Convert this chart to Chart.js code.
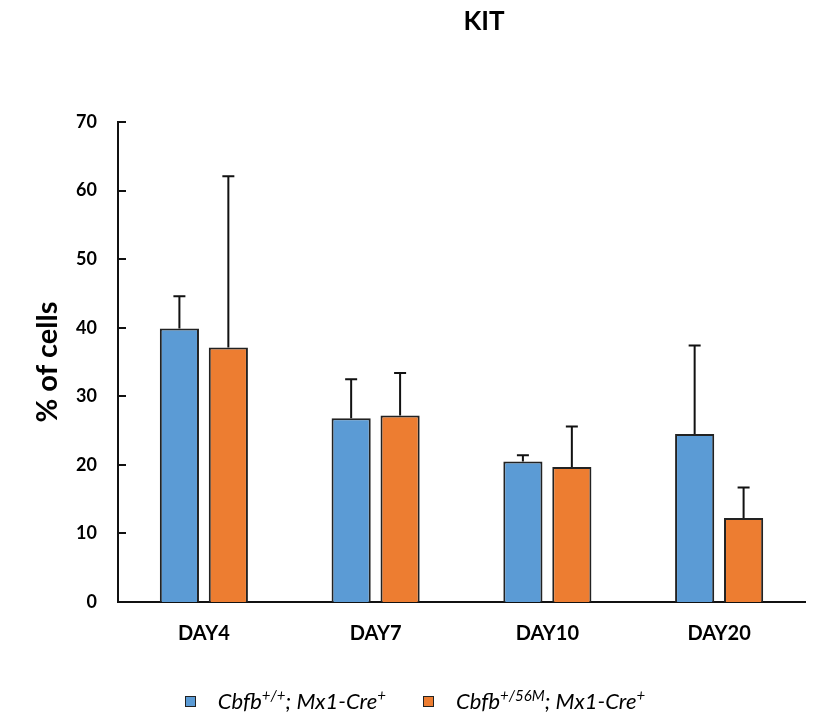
<!DOCTYPE html>
<html>
<head>
<meta charset="utf-8">
<script src="https://cdn.jsdelivr.net/npm/chart.js@4"></script>
<style>
  body { margin: 0; background: #fff; }
  #wrap { position: relative; width: 816px; height: 721px; }
  #title { position: absolute; top: 4px; left: 384px; width: 200px; text-align: center;
           font: bold 26px Lato, sans-serif; color: #000; }
  #legend { position: absolute; top: 687px; left: 7px; width: 816px; text-align: center;
            font: italic 22px Lato, sans-serif; color: #000; white-space: nowrap; }
  #legend span.box { display: inline-block; width: 9px; height: 9px; border: 1.5px solid #222;
            margin-right: 22px; vertical-align: 2px; }
  #legend span.item { margin: 0 16px; }
  #legend sup { font-size: 15px; vertical-align: 8px; line-height: 0; }
</style>
</head>
<body>
<div id="wrap">
  <canvas id="myChart" width="816" height="721"></canvas>
  <div id="title">KIT</div>
  <div id="legend">
    <span class="item"><span class="box" style="background:#5B9BD5"></span>Cbfb<sup>+/+</sup>; Mx1-Cre<sup>+</sup></span>
    <span class="item"><span class="box" style="background:#ED7D31"></span>Cbfb<sup>+/56M</sup>; Mx1-Cre<sup>+</sup></span>
  </div>
</div>
<script>
// Data
const days = ['DAY4', 'DAY7', 'DAY10', 'DAY20'];
const wtMean = [39.9, 26.8, 20.5, 24.5];
const wtErr = [4.7, 5.7, 0.9, 12.9];
const mutMean = [37.1, 27.2, 19.7, 12.25];
const mutErr = [25.0, 6.2, 5.9, 4.45];
const yTicks = [0, 10, 20, 30, 40, 50, 60, 70];

const errors = [wtErr, mutErr];

// Draw upper error bars from the dataset values
const errorBars = {
    id: 'errorBars',
    afterDatasetsDraw(chart) {
        const ctx = chart.ctx;
        const y = chart.scales.y;
        ctx.save();
        ctx.strokeStyle = '#111';
        ctx.lineWidth = 2;
        chart.data.datasets.forEach(function(ds, i) {
            const meta = chart.getDatasetMeta(i);
            meta.data.forEach(function(bar, j) {
                const top = y.getPixelForValue(ds.data[j] + errors[i][j]);
                const x = bar.x;
                ctx.beginPath();
                ctx.moveTo(x, bar.y);
                ctx.lineTo(x, top);
                ctx.moveTo(x - 6, top);
                ctx.lineTo(x + 6, top);
                ctx.stroke();
            });
        });
        ctx.restore();
    }
};

// Tick marks point into the plot, like the original
const innerTicks = {
    id: 'innerTicks',
    afterDraw(chart) {
        const ctx = chart.ctx;
        const y = chart.scales.y;
        const left = chart.chartArea.left;
        ctx.save();
        ctx.strokeStyle = '#111';
        ctx.lineWidth = 2;
        yTicks.forEach(function(v) {
            const py = Math.round(y.getPixelForValue(v));
            ctx.beginPath();
            ctx.moveTo(left, py);
            ctx.lineTo(left + 8, py);
            ctx.stroke();
        });
        ctx.restore();
    }
};

const ctx = document.getElementById('myChart').getContext('2d');
const myChart = new Chart(ctx, {
    type: 'bar',
    data: {
        labels: days,
        datasets: [{
            label: 'Cbfb+/+; Mx1-Cre+',
            data: wtMean,
            backgroundColor: '#5B9BD5',
            borderColor: '#222',
            borderWidth: 2
        }, {
            label: 'Cbfb+/56M; Mx1-Cre+',
            data: mutMean,
            backgroundColor: '#ED7D31',
            borderColor: '#222',
            borderWidth: 2
        }]
    },
    options: {
        responsive: false,
        animation: false,
        layout: { padding: { left: 0, right: 11, top: 122, bottom: 79 } },
        plugins: {
            legend: { display: false },
            title: { display: false },
            tooltip: { enabled: false }
        },
        datasets: {
            bar: { categoryPercentage: 0.57, barPercentage: 0.8 }
        },
        scales: {
            x: {
                grid: { display: false, drawTicks: false },
                border: { color: '#111', width: 2 },
                ticks: {
                    color: '#000',
                    padding: 20,
                    font: { family: 'Lato', weight: 'bold', size: 20 }
                },
                afterFit(scale) { scale.height = 40; }
            },
            y: {
                min: 0,
                max: 70,
                afterBuildTicks(scale) {
                    scale.ticks = yTicks.map(function(v) { return { value: v }; });
                },
                grid: { display: false, drawTicks: false },
                border: { color: '#111', width: 2 },
                ticks: {
                    color: '#000',
                    padding: 21,
                    font: { family: 'Lato', weight: 'bold', size: 18 }
                },
                title: {
                    display: true,
                    text: '% of cells',
                    color: '#000',
                    font: { family: 'Lato', weight: 'bold', size: 29 },
                    padding: { top: 30, bottom: 0 }
                },
                afterFit(scale) { scale.width = 118; }
            }
        }
    },
    plugins: [errorBars, innerTicks]
});
</script>
</body>
</html>
